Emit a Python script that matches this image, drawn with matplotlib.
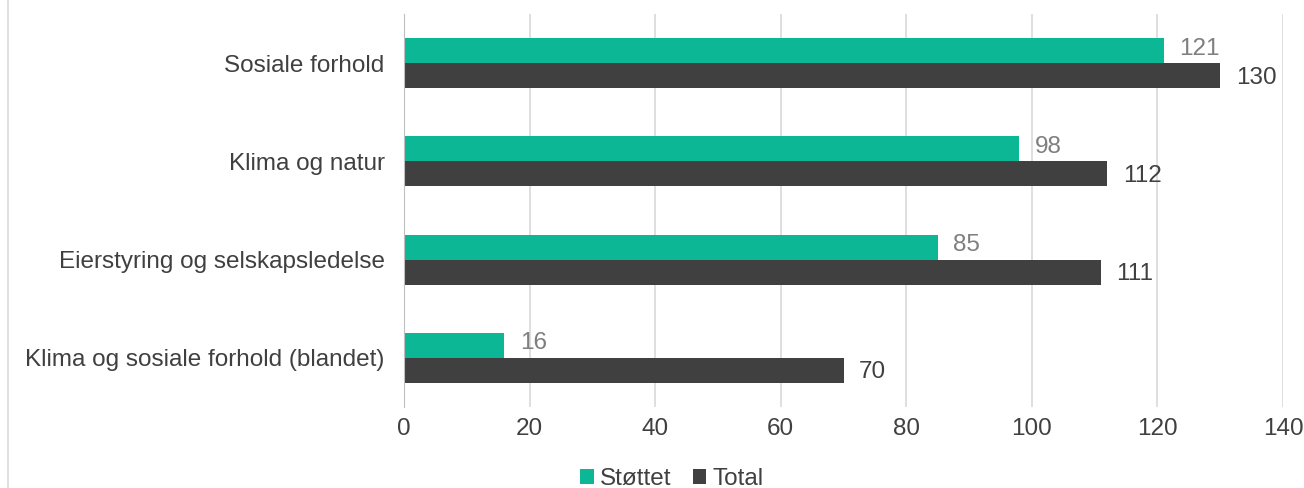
import numpy as np
import matplotlib.pyplot as plt
from matplotlib.lines import Line2D

# data
categories = ["Sosiale forhold", "Klima og natur", "Eierstyring og selskapsledelse",
              "Klima og sosiale forhold (blandet)"]
stottet = [121, 98, 85, 16]
total = [130, 112, 111, 70]
xticks = [0, 20, 40, 60, 80, 100, 120, 140]

plt.rcParams['font.family'] = ['Liberation Sans', 'DejaVu Sans']

green = "#0bb795"
dark = "#404040"
fs = 17.5

fig = plt.figure(figsize=[13.04, 4.88], dpi=100)
ax = fig.add_axes([404/1304, 1-407/488, (1283-404)/1304, (407-14)/488])

y = np.arange(len(categories))
h = 0.255
ax.barh(y - h/2, stottet, height=h, color=green, label="Støttet")
ax.barh(y + h/2, total, height=h, color=dark, label="Total")

for i in range(len(categories)):
    ax.text(stottet[i] + 2.5, y[i] - h/2 - 0.02, str(stottet[i]), va='center', ha='left',
            fontsize=fs, color="#7f7f7f")
    ax.text(total[i] + 2.5, y[i] + h/2 + 0.02, str(total[i]), va='center', ha='left',
            fontsize=fs, color=dark)

ax.set_ylim(len(categories) - 0.5, -0.5)
ax.set_xlim(0, 140)
ax.set_xticks(xticks)
ax.set_xticklabels([str(t) for t in xticks], fontsize=fs, color=dark)
ax.set_yticks(y)
ax.set_yticklabels(categories, fontsize=fs, color=dark)
ax.tick_params(axis='both', length=0)
ax.tick_params(axis='x', pad=8)
ax.tick_params(axis='y', pad=14)
ax.xaxis.grid(True, color="#d9d9d9", linewidth=1.2)
ax.set_axisbelow(True)
for s in ['top', 'right', 'bottom']:
    ax.spines[s].set_visible(False)
ax.spines['left'].set_color("#bfbfbf")

leg = fig.legend(loc='center', bbox_to_anchor=(672/1304, 1-479/488), ncol=2, frameon=False,
                 fontsize=fs, handlelength=0.55, handleheight=0.55, handletextpad=0.25,
                 columnspacing=0.9)
for t in leg.get_texts():
    t.set_color(dark)

# chart border on the left edge
fig.add_artist(Line2D([8/1304, 8/1304], [0, 1], color="#e0e0e0", linewidth=1.5))

fig.savefig("out.png", dpi=100)
